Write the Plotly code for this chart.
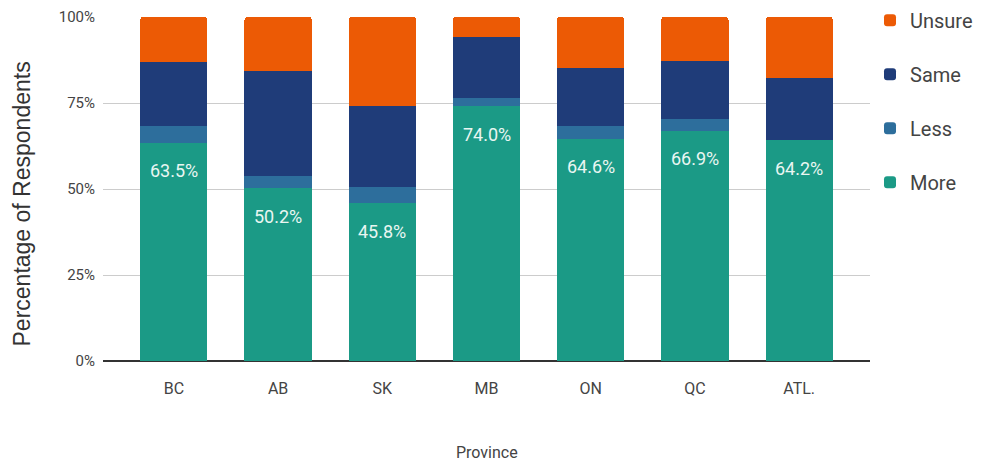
import plotly.graph_objects as go

provinces = ["BC", "AB", "SK", "MB", "ON", "QC", "ATL."]
more = [63.5, 50.2, 45.8, 74.0, 64.6, 66.9, 64.2]
less = [4.9, 3.6, 4.8, 2.4, 3.8, 3.4, 0.0]
same = [18.4, 30.5, 23.6, 17.7, 16.9, 16.9, 18.1]
unsure = [13.2, 15.7, 25.8, 5.9, 14.7, 12.8, 17.7]

series = [
    ("More", more, "#1B9A86", 4),
    ("Less", less, "#2D6E9C", 3),
    ("Same", same, "#1F3C79", 2),
    ("Unsure", unsure, "#EC5A05", 1),
]

fig = go.Figure()
for name, vals, color, rank in series:
    fig.add_trace(go.Bar(
        x=provinces, y=vals, name=name, marker_color=color,
        marker_line_width=0, width=0.645, legendgroup=name, legendrank=rank,
        hoverinfo="x+y+name",
    ))

for p, v in zip(provinces, more):
    fig.add_annotation(
        x=p, y=v, text=f"{v:.1f}%", showarrow=False, yshift=-28,
        yanchor="middle", font=dict(family="Roboto", size=18, color="#EAF6F2"),
    )

fig.add_annotation(
    xref="paper", yref="paper", x=0.5, y=-0.265, text="Province",
    showarrow=False, yanchor="middle",
    font=dict(family="Roboto", size=16, color="#444"),
)
fig.add_annotation(
    xref="paper", yref="paper", x=-0.1056, y=0.455, text="Percentage of Respondents",
    showarrow=False, textangle=-90, xanchor="center", yanchor="middle",
    font=dict(family="Liberation Sans", size=23, color="#333"),
)

fig.update_layout(
    width=992, height=462,
    margin=dict(l=95, r=130, t=9, b=109, autoexpand=False),
    paper_bgcolor="white", plot_bgcolor="white",
    barmode="stack", barcornerradius=3,
    font=dict(family="Roboto", color="#444"),
    legend=dict(
        x=1.0, xanchor="left", y=1.047, yanchor="top",
        traceorder="grouped", tracegroupgap=25,
        font=dict(family="Roboto", size=20, color="#444"),
        itemwidth=30,
    ),
    xaxis=dict(
        range=[-0.68, 6.68], showgrid=False, automargin=False,
        tickfont=dict(family="Roboto", size=16, color="#444"),
        showline=False, ticks="outside", ticklen=13, tickcolor="rgba(0,0,0,0)",
    ),
    yaxis=dict(
        range=[0, 100], tickvals=[0, 25, 50, 75, 100],
        ticktext=["0%", "25%", "50%", "75%", "100%"],
        gridcolor="#CCCCCC", gridwidth=1, automargin=False,
        zeroline=True, zerolinecolor="#333333", zerolinewidth=1.5,
        tickfont=dict(family="Roboto", size=15, color="#444"),
        ticks="outside", ticklen=4, tickcolor="rgba(0,0,0,0)",
    ),
)

fig.write_html("out.html")
